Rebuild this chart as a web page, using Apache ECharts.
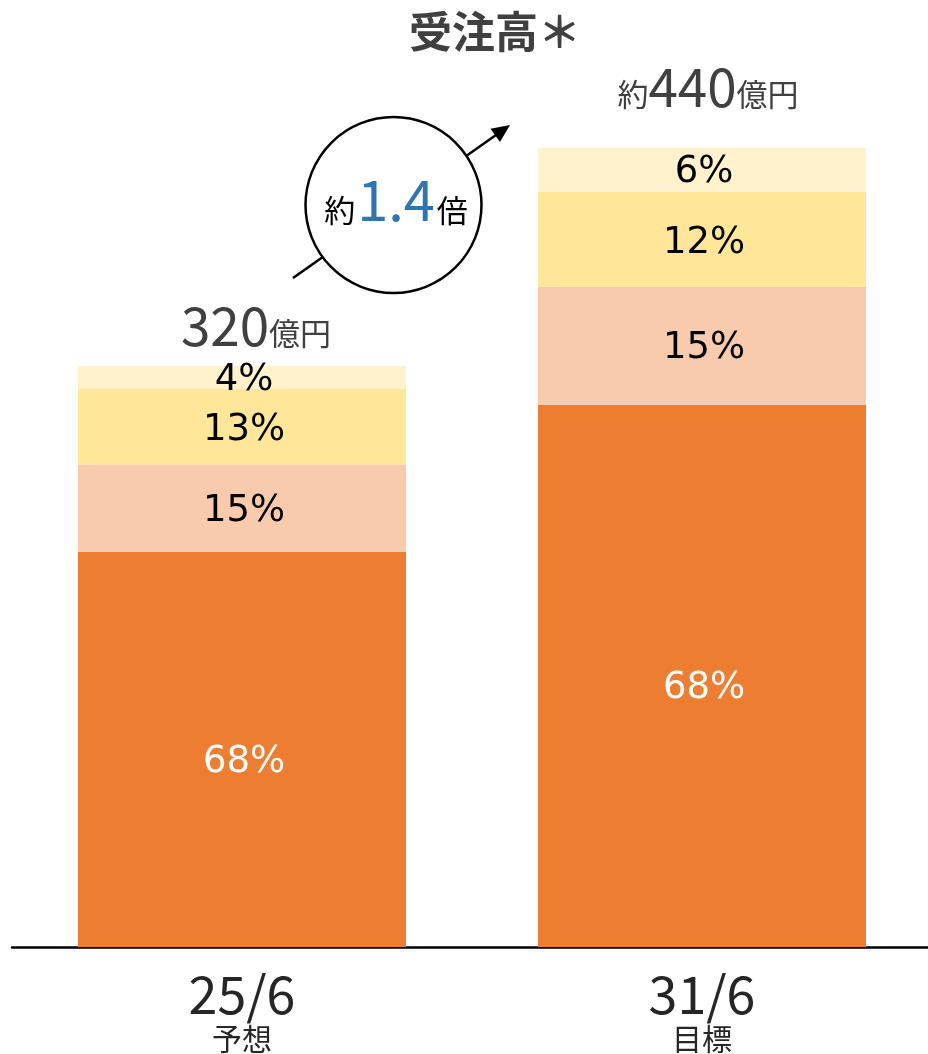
<!DOCTYPE html>
<html>
<head>
<meta charset="utf-8">
<script src="https://cdn.jsdelivr.net/npm/echarts@6/dist/echarts.min.js"></script>
<style>
  html, body { margin: 0; padding: 0; background: #fff; overflow: hidden; }
  #main { width: 932px; height: 1054px; }
</style>
</head>
<body>
<div id="main"></div>
<script>
// 期間（カテゴリ）
var categories = ['25/6', '31/6'];
var subLabels = ['予想', '目標'];
// 合計（億円）
var totalText = ['320', '440'];
var totalPrefix = ['', '約'];
// 構成（億円）- 下から順に
var segA = [217.6, 298.5];
var segB = [48.0, 65.0];
var segC = [41.6, 52.3];
var segD = [12.8, 24.2];
// 構成比ラベル
var pctA = ['68%', '68%'];
var pctB = ['15%', '15%'];
var pctC = ['13%', '12%'];
var pctD = ['4%', '6%'];

var chart = echarts.init(document.getElementById('main'));

function seg(name, data, pct, color, textColor, dy) {
    return {
        name: name,
        type: 'bar',
        stack: 'total',
        barWidth: 328,
        data: data,
        itemStyle: { color: color },
        label: {
            show: true,
            position: 'inside',
            offset: [2, dy],
            formatter: function (p) { return pct[p.dataIndex]; },
            color: textColor,
            fontSize: 37,
            fontFamily: 'DejaVu Sans'
        },
        emphasis: { disabled: true }
    };
}

var option = {
    animation: false,
    title: {
        text: '受注高＊',
        left: 490,
        top: 5,
        textAlign: 'center',
        textStyle: {
            fontSize: 43,
            fontWeight: 'bold',
            color: '#404040',
            fontFamily: 'Noto Sans CJK JP'
        }
    },
    grid: {
        left: 12,
        width: 920,
        top: 75,
        bottom: 107,
        containLabel: false
    },
    xAxis: {
        type: 'category',
        data: categories,
        axisLine: { lineStyle: { color: '#000', width: 2.5 } },
        axisTick: { show: false },
        axisLabel: {
            margin: 20,
            formatter: function (v, i) {
                return '{a|' + v + '}\n{b|' + subLabels[i] + '}';
            },
            rich: {
                a: { fontSize: 52, color: '#262626', fontFamily: 'Noto Sans CJK JP', lineHeight: 54 },
                b: { fontSize: 30, color: '#262626', fontFamily: 'Noto Sans CJK JP', lineHeight: 36 }
            }
        }
    },
    yAxis: {
        type: 'value',
        min: 0,
        max: 480,
        show: false,
        splitLine: { show: false }
    },
    series: [
        seg('A', segA, pctA, '#ED7D31', '#fff', 13),
        seg('B', segB, pctB, '#F8CBAD', '#000', 3),
        seg('C', segC, pctC, '#FFE699', '#000', 4),
        seg('D', segD, pctD, '#FFF2CC', '#000', 3),
        {
            name: '合計',
            type: 'bar',
            stack: 'total',
            barWidth: 328,
            data: [
                { value: 0, label: { offset: [14, -9] } },
                { value: 0, label: { offset: [6, -30] } }
            ],
            itemStyle: { color: 'transparent' },
            label: {
                show: true,
                position: 'top',
                distance: 4,
                formatter: function (p) {
                    var pre = totalPrefix[p.dataIndex] ? '{s|' + totalPrefix[p.dataIndex] + '}' : '';
                    return pre + '{n|' + totalText[p.dataIndex] + '}{s|億円}';
                },
                rich: {
                    n: { fontSize: 53, color: '#404040', fontFamily: 'Noto Sans CJK JP', verticalAlign: 'bottom' },
                    s: { fontSize: 31, color: '#404040', fontFamily: 'Noto Sans CJK JP', verticalAlign: 'bottom', padding: [0, 0, 4, 0] }
                }
            },
            emphasis: { disabled: true }
        }
    ],
    graphic: [
        {
            type: 'line',
            z: 10,
            shape: { x1: 293, y1: 278, x2: 496, y2: 135 },
            style: { stroke: '#000', lineWidth: 2.5 }
        },
        {
            type: 'polygon',
            z: 10,
            shape: { points: [[510, 125], [500, 142], [490.5, 128.7]] },
            style: { fill: '#000' }
        },
        {
            type: 'circle',
            z: 11,
            shape: { cx: 393.5, cy: 205, r: 88 },
            style: { fill: '#fff', stroke: '#000', lineWidth: 2.5 }
        },
        {
            type: 'text',
            z: 12,
            x: 396,
            y: 200,
            style: {
                text: '{s|約}{b|1.4}{s|倍}',
                align: 'center',
                verticalAlign: 'middle',
                rich: {
                    s: { fontSize: 31, fill: '#000', fontFamily: 'Noto Sans CJK JP', verticalAlign: 'bottom', padding: [0, 2, 2, 2] },
                    b: { fontSize: 56, fill: '#2E75B6', fontFamily: 'Noto Sans CJK JP', verticalAlign: 'bottom' }
                }
            }
        }
    ]
};

chart.setOption(option);
</script>
</body>
</html>
